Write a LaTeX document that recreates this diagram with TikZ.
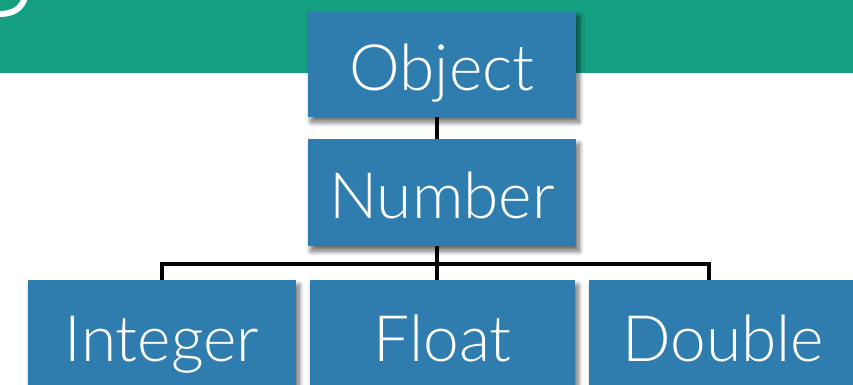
\documentclass[tikz,border=0pt]{standalone}
\usepackage{fontspec}
\setmainfont{Lato Light}
\usetikzlibrary{shadows.blur,backgrounds}
\definecolor{band}{RGB}{20,159,129}
\definecolor{boxblue}{RGB}{47,124,175}
\tikzset{
  classbox/.style={rectangle, fill=boxblue, text=white, inner sep=0pt,
    minimum width=268pt, minimum height=107pt,
    text height=52pt, text depth=0pt,
    font=\fontsize{64}{64}\selectfont,
    blur shadow={shadow xshift=3pt, shadow yshift=-5pt,
      shadow blur radius=5pt, shadow blur steps=10, shadow opacity=60}},
  link/.style={line width=4pt, black}
}
\begin{document}
\begin{tikzpicture}[x=1pt, y=-1pt]
  \useasboundingbox (0,0) rectangle (853,384);
  \clip (0,0) rectangle (853,384);

  % title band with the tail of its heading
  \fill[band] (0,0) rectangle (853,72.5);
  \draw[white, line width=6pt] (-2,14) .. controls (12,14.5) and (22,9) .. (25,-3);

  % class boxes
  \node[classbox, minimum height=106pt] (obj) at (442,64) {Object};
  \node[classbox] (num) at (442,192.5) {Number};
  \node[classbox, minimum height=111pt] (int) at (162,335.5) {Integer};
  \node[classbox, minimum width=265pt, minimum height=111pt] (flt) at (442.5,335.5) {Float};
  \node[classbox, minimum height=111pt] (dbl) at (723,335.5) {Double};

  % joints of the inheritance tree
  \coordinate (bar) at (437,264);
  \coordinate (dj) at (709,280);

  \begin{scope}[on background layer]
    \draw[link] (obj.south -| bar) -- (num.north -| bar);
    \draw[link] (num.south -| bar) -- (flt.north -| bar);
    \draw[link, line join=miter] (int.north) |- (bar) -| (dj);
  \end{scope}
\end{tikzpicture}
\end{document}
